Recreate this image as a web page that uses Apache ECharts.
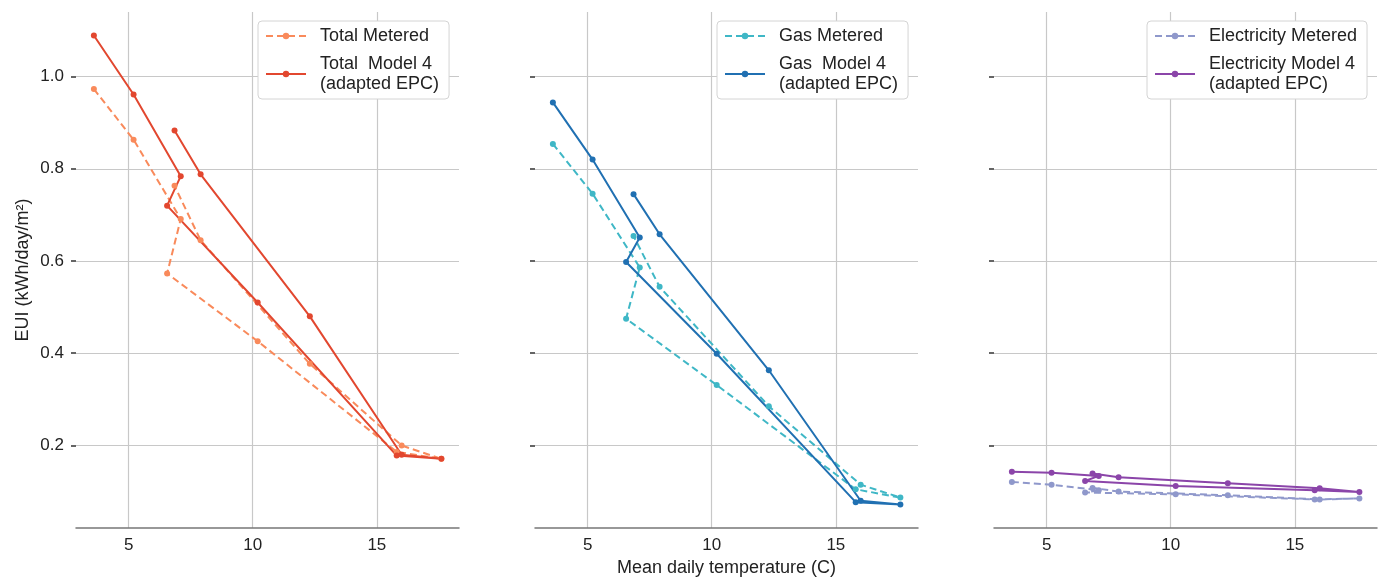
<!DOCTYPE html>
<html>
<head>
<meta charset="utf-8">
<script src="https://cdn.jsdelivr.net/npm/echarts@6/dist/echarts.min.js"></script>
<style>
html,body{margin:0;padding:0;background:#fff;}
#chart{width:1381px;height:580px;}
</style>
</head>
<body>
<div id="chart"></div>
<script>
// Mean daily temperature (C), in plotting order
const temperature = [3.6, 5.2, 7.1, 6.55, 10.2, 15.8, 17.6, 16.0, 12.3, 7.9, 6.85];

const totalMetered = [0.973, 0.863, 0.691, 0.573, 0.426, 0.186, 0.171, 0.200, 0.377, 0.645, 0.763];
const totalModel   = [1.089, 0.961, 0.784, 0.720, 0.510, 0.178, 0.171, 0.180, 0.480, 0.788, 0.883];
const gasMetered   = [0.854, 0.746, 0.586, 0.475, 0.331, 0.105, 0.087, 0.115, 0.285, 0.544, 0.654];
const gasModel     = [0.944, 0.820, 0.651, 0.598, 0.399, 0.077, 0.072, 0.080, 0.363, 0.658, 0.745];
const elecMetered  = [0.121, 0.115, 0.103, 0.098, 0.094, 0.083, 0.085, 0.083, 0.092, 0.100, 0.108];
const elecModel    = [0.143, 0.141, 0.134, 0.123, 0.112, 0.103, 0.099, 0.107, 0.118, 0.131, 0.139];

const xTicks = [5, 10, 15];
const yTicks = [0.2, 0.4, 0.6, 0.8, 1.0];

const seriesNames = [
  ['Total Metered', 'Total  Model 4\n(adapted EPC)'],
  ['Gas Metered', 'Gas  Model 4\n(adapted EPC)'],
  ['Electricity Metered', 'Electricity Model 4\n(adapted EPC)']
];
const panelData = [[totalMetered, totalModel], [gasMetered, gasModel], [elecMetered, elecModel]];
const panelColors = [['#f98a5b', '#e2472f'], ['#3fb7c6', '#2070b2'], ['#8f98cb', '#8b45a9']];

const FONT = '"Liberation Sans", Arial, sans-serif';
const gridLefts = [76, 535, 994];
const gridWidth = 383;

const grids = gridLefts.map(l => ({left: l, top: 12, width: gridWidth, height: 516, outerBoundsMode: 'none', containLabel: false}));

const xAxes = gridLefts.map((l, i) => ({
  type: 'value', gridIndex: i, min: 2.88, max: 18.31,
  name: i === 1 ? 'Mean daily temperature (C)' : '',
  nameLocation: 'middle', nameGap: 30,
  nameTextStyle: {fontFamily: FONT, fontSize: 18, color: '#222'},
  axisLine: {show: true, lineStyle: {color: '#777', width: 1.5}},
  axisTick: {show: false, customValues: xTicks},
  axisLabel: {customValues: xTicks, fontFamily: FONT, fontSize: 17, color: '#222', margin: 9},
  splitLine: {show: true, lineStyle: {color: '#c8c8c8', width: 1.2}}
}));

const yAxes = gridLefts.map((l, i) => ({
  type: 'value', gridIndex: i, min: 0.021, max: 1.14,
  name: i === 0 ? 'EUI (kWh/day/m²)' : '',
  nameLocation: 'middle', nameGap: 44,
  nameTextStyle: {fontFamily: FONT, fontSize: 18, color: '#222'},
  axisLine: {show: false},
  axisTick: {show: true, customValues: yTicks, length: 5, lineStyle: {color: '#333', width: 1.5}},
  axisLabel: {show: i === 0, customValues: yTicks, fontFamily: FONT, fontSize: 17, color: '#222', margin: 12,
    formatter: v => v.toFixed(1)},
  splitLine: {show: true, lineStyle: {color: '#c8c8c8', width: 1.2}}
}));

const series = [];
panelData.forEach((pair, i) => {
  pair.forEach((vals, j) => {
    series.push({
      type: 'line', name: seriesNames[i][j],
      xAxisIndex: i, yAxisIndex: i,
      data: temperature.map((t, k) => [t, vals[k]]),
      symbol: 'circle', symbolSize: 6,
      lineStyle: {color: panelColors[i][j], width: 2, type: j === 0 ? [7, 4] : 'solid'},
      itemStyle: {color: panelColors[i][j]},
      emphasis: {disabled: true}
    });
  });
});

const legendLefts = [258, 717, 1147];
const legends = legendLefts.map((l, i) => ({
  left: l, top: 21, orient: 'vertical',
  data: seriesNames[i],
  itemWidth: 40, itemHeight: 8, itemGap: 8,
  padding: [5, 10, 5, 7],
  borderColor: '#d4d4d4', borderWidth: 1, borderRadius: 4,
  backgroundColor: '#fff',
  textStyle: {fontFamily: FONT, fontSize: 18, color: '#222', lineHeight: 20, padding: [0, 0, 0, 9]},
  selectedMode: false
}));

const chart = echarts.init(document.getElementById('chart'), null, {renderer: 'canvas'});
chart.setOption({
  animation: false,
  backgroundColor: '#fff',
  grid: grids,
  xAxis: xAxes,
  yAxis: yAxes,
  legend: legends,
  series: series
});
</script>
</body>
</html>
